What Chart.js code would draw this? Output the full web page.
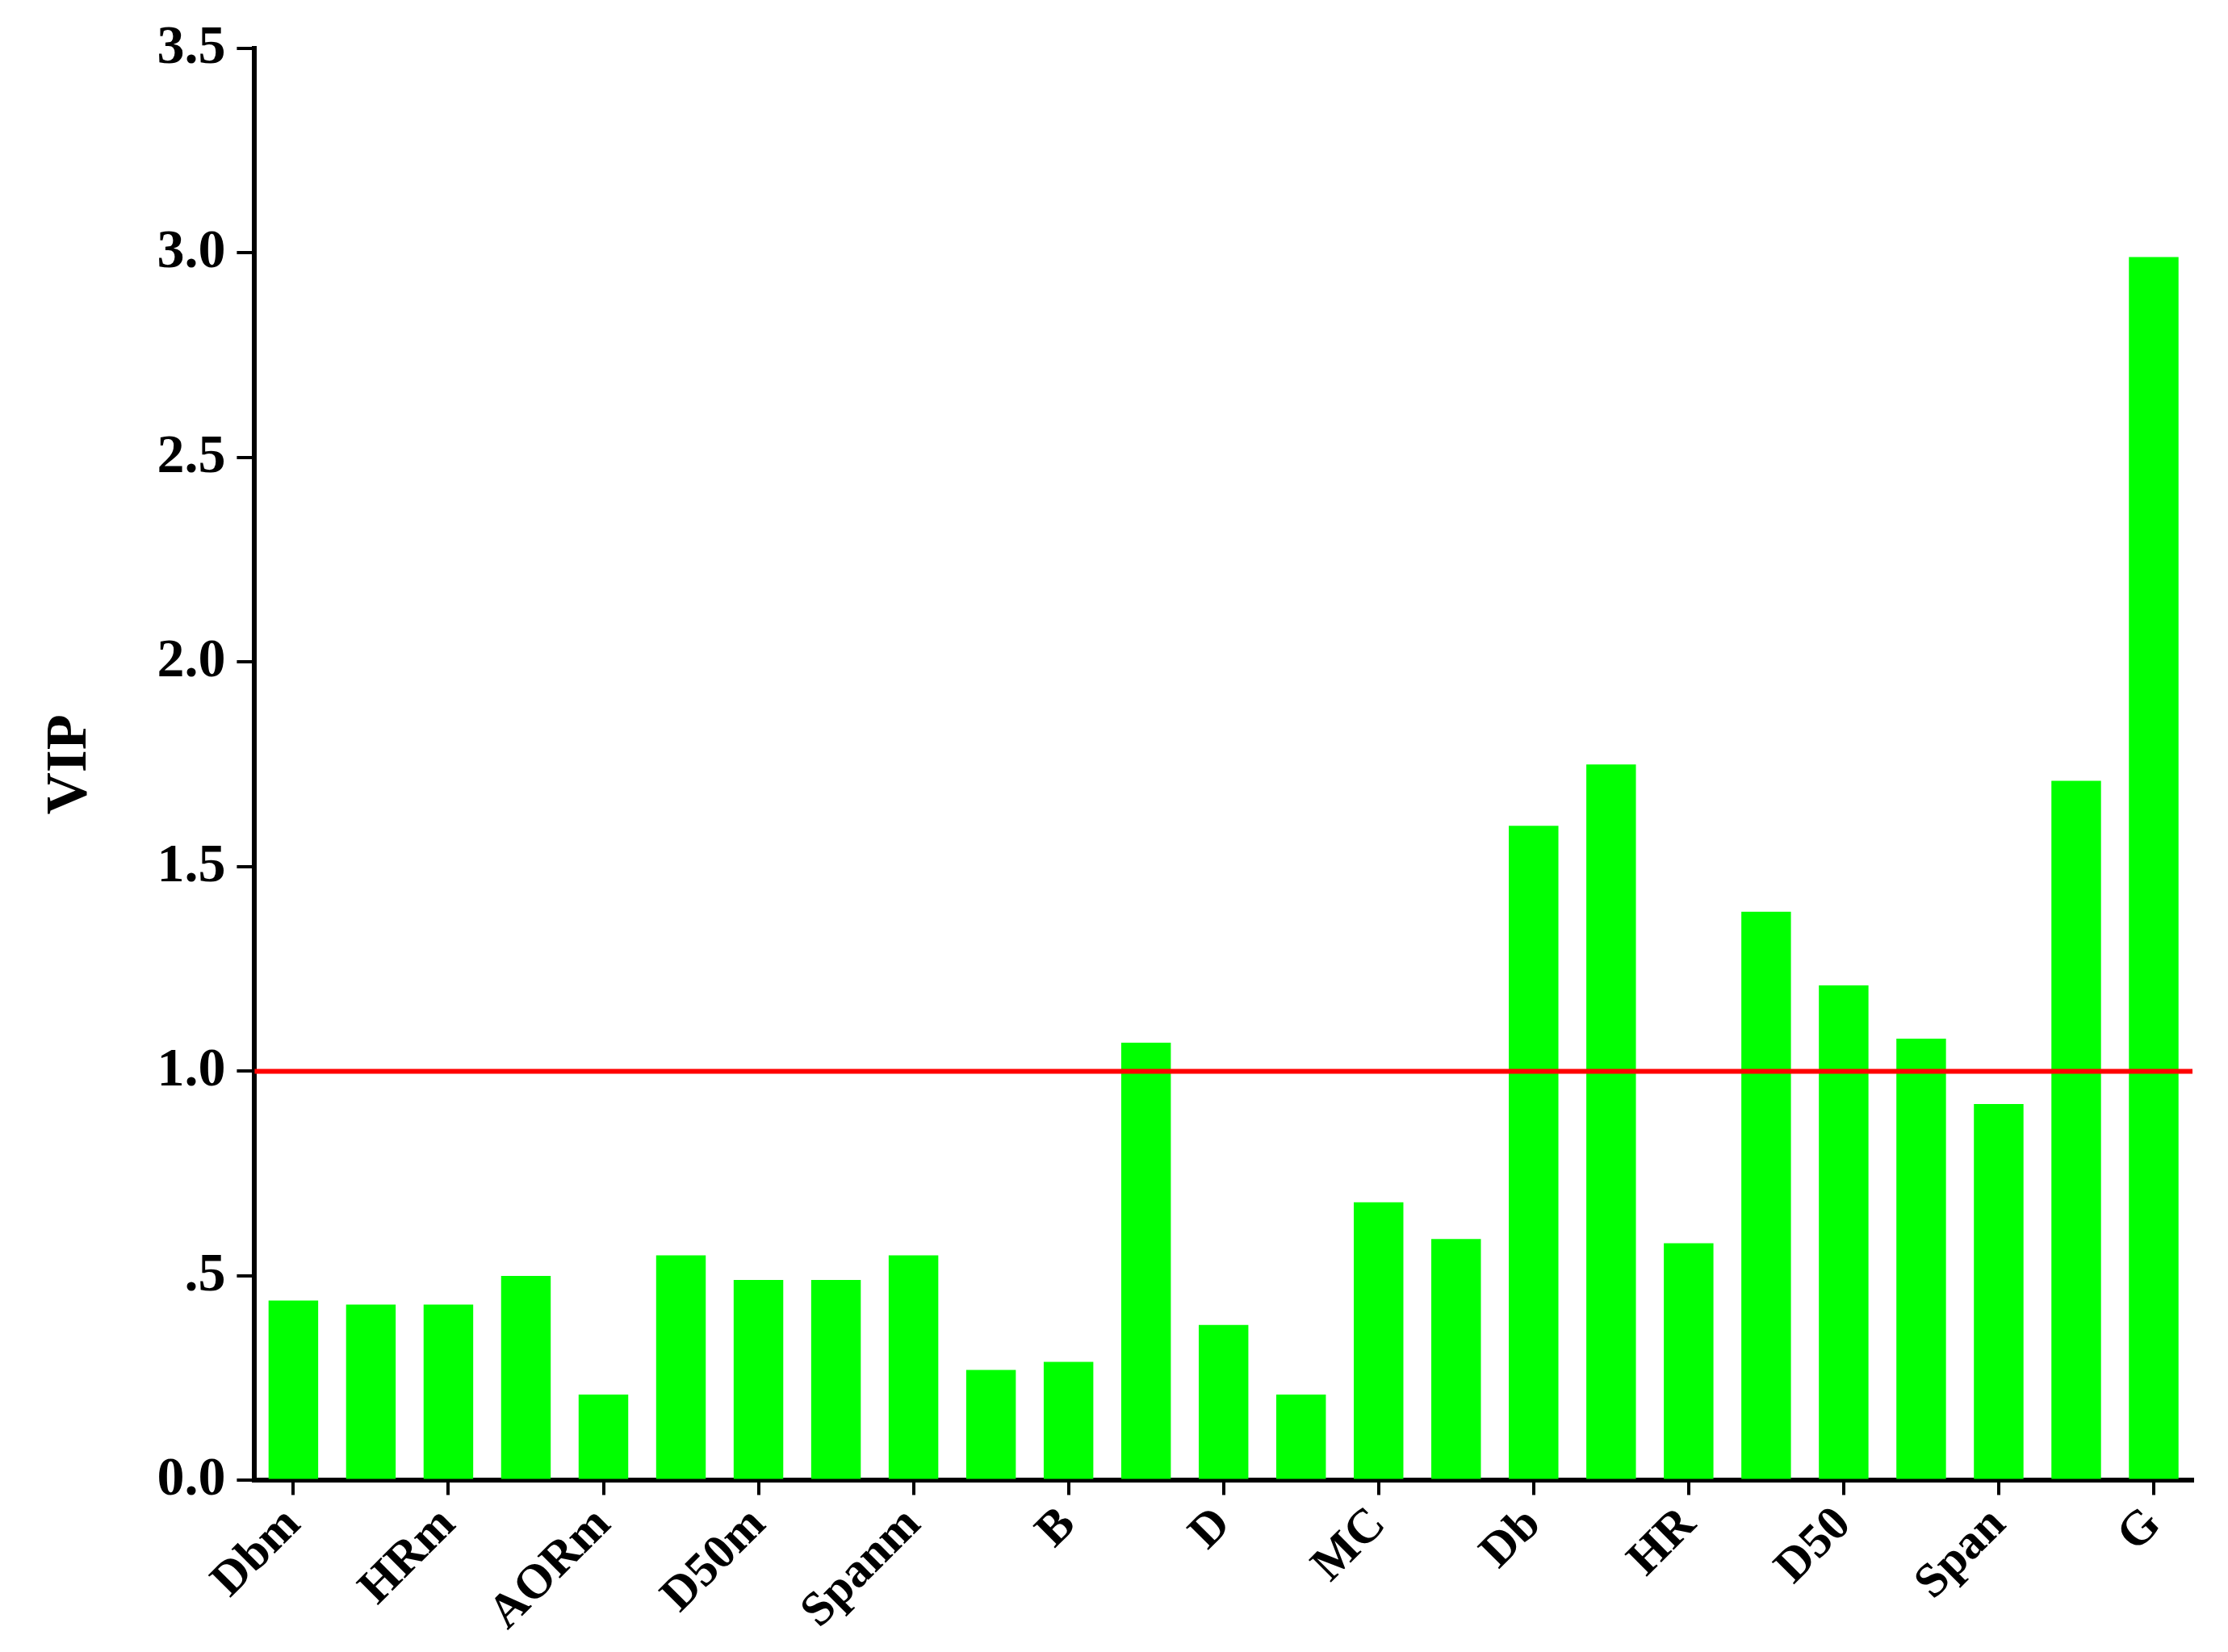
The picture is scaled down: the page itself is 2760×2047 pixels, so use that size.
<!DOCTYPE html>
<html><head><meta charset="utf-8">
<script src="https://cdn.jsdelivr.net/npm/chart.js@4"></script>
<style>html,body{margin:0;background:#fff}#w{width:2760px;height:2047px}</style>
</head><body><div id="w"><canvas id="c"></canvas></div>
<script>
const categories=["Dbm","Dtm","HRm","SSAm","AORm","D10m","D50m","D90m","Spanm","A","B","C","D","E","MC","AOR","Db","Dt","HR","D10","D50","D90","Span","F","G"];
const vipValues=[0.44,0.43,0.43,0.50,0.21,0.55,0.49,0.49,0.55,0.27,0.29,1.07,0.38,0.21,0.68,0.59,1.60,1.75,0.58,1.39,1.21,1.08,0.92,1.71,2.99];
const thresholdValue=1.0;
const yTickLabels={0:"0.0",0.5:".5",1:"1.0",1.5:"1.5",2:"2.0",2.5:"2.5",3:"3.0",3.5:"3.5"};
const font={family:"Liberation Serif",weight:"bold"};
const refLine={id:"refLine",afterDatasetsDraw(ch){const y=ch.scales.y.getPixelForValue(thresholdValue),a=ch.chartArea,c=ch.ctx;c.save();c.strokeStyle="#ff0000";c.lineWidth=6;c.beginPath();c.moveTo(a.left,y);c.lineTo(a.right,y);c.stroke();c.restore();}};
new Chart(document.getElementById("c"),{type:"bar",
data:{labels:categories,datasets:[{data:vipValues,backgroundColor:"#00ff00",barPercentage:0.64,categoryPercentage:1}]},
options:{responsive:true,maintainAspectRatio:false,animation:false,
layout:{padding:{top:60,right:44,left:40,bottom:10}},
plugins:{legend:{display:false},tooltip:{enabled:false}},
scales:{
x:{grid:{display:true,offset:false,drawOnChartArea:false,tickLength:18,color:"#000",lineWidth:4},border:{color:"#000",width:6},
ticks:{color:"#000",font:{...font,size:60},maxRotation:45,minRotation:45,padding:2}},
y:{min:0,max:3.5,grid:{display:true,drawOnChartArea:false,tickLength:22,color:"#000",lineWidth:4},border:{color:"#000",width:6},
ticks:{stepSize:0.5,color:"#000",font:{...font,size:68},padding:14,callback:v=>yTickLabels[v]},
title:{display:true,text:"VIP",color:"#000",font:{...font,size:72},padding:{bottom:50}}}}},
plugins:[refLine]});
</script></body></html>
